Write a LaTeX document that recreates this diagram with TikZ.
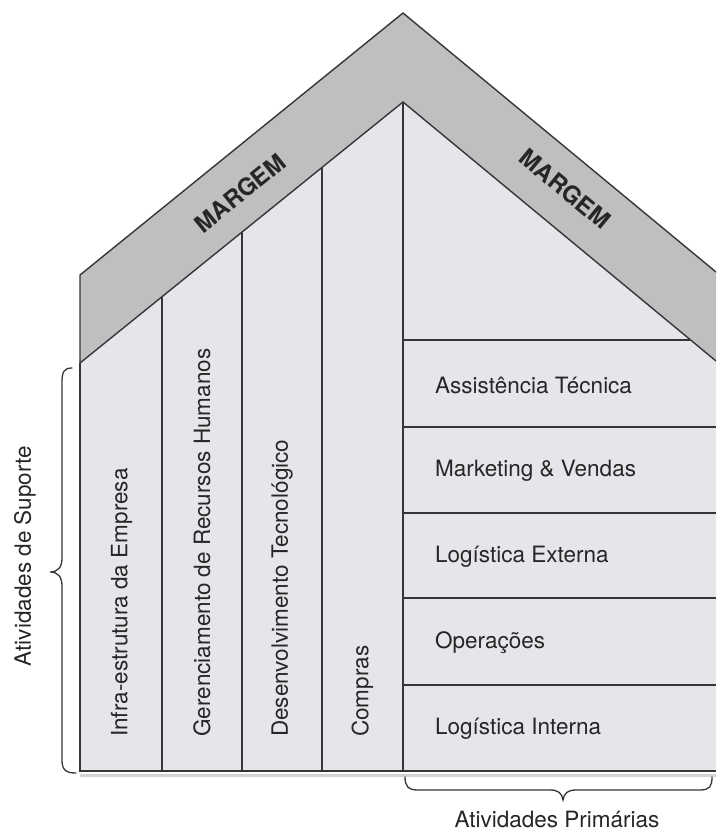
\documentclass[tikz,border=0pt]{standalone}
\usepackage{fontspec}
\setmainfont{TeX Gyre Heros}
\definecolor{bandgrey}{HTML}{BEBFC1}
\definecolor{wallgrey}{HTML}{E4E6E9}
\definecolor{linegrey}{HTML}{363636}
\definecolor{textgrey}{HTML}{262626}
\definecolor{shadowgrey}{HTML}{D2D3D5}
\begin{document}
\begin{tikzpicture}[x=1pt,y=-1pt,
  edge/.style={draw=linegrey, line width=1.4pt, line join=miter},
  bracepath/.style={draw=linegrey, line width=1.3pt, line cap=round},
  lbl/.style={font=\fontsize{22.5}{26}\selectfont, text=textgrey, inner sep=0pt},
  margem/.style={font=\fontsize{24}{28}\selectfont\bfseries, text=black!85, inner sep=0pt},
  coltext/.style={lbl, rotate=90, anchor=west},
  rowtext/.style={lbl, anchor=west}]
\useasboundingbox (0,0) rectangle (716,831);
\clip (0,0) rectangle (716,831);

% house corners
\coordinate (wallTop) at (80,275);
\coordinate (apexOut) at (403,13);
\coordinate (rightOut) at (716,272);
\coordinate (wallIn) at (80,363);
\coordinate (apexIn) at (403,102);
\coordinate (rightIn) at (716,361);
\coordinate (floorL) at (80,771);
\coordinate (floorR) at (716,771);

% interior walls
\fill[wallgrey] (wallIn) -- (apexIn) -- (rightIn) -- (floorR) -- (floorL) -- cycle;
% margin band (roof)
\fill[bandgrey] (wallTop) -- (apexOut) -- (rightOut) -- (rightIn) -- (apexIn) -- (wallIn) -- cycle;

% faint shadow under the floor
\draw[shadowgrey, line width=3pt] (80,775) -- (716,775);

% outlines
\draw[edge] (wallIn) -- (wallTop) -- (apexOut) -- (rightOut);
\draw[edge] (wallIn) -- (apexIn) -- (rightIn);
\draw[edge] (wallIn) -- (floorL) -- (floorR);

% support activity columns
\draw[edge] (162,296.7) -- (162,771);
\draw[edge] (242,232.1) -- (242,771);
\draw[edge] (322,167.5) -- (322,771);
\draw[edge] (apexIn) -- (403,771);

% primary activity rows
\draw[edge] (403,340) -- (690,340);
\draw[edge] (403,427) -- (716,427);
\draw[edge] (403,513) -- (716,513);
\draw[edge] (403,598) -- (716,598);
\draw[edge] (403,685) -- (716,685);

% margin labels
\node[margem, rotate=39] (margemL) at (240,193) {MARGEM};
\node[margem, rotate=-39.6] (margemR) at (565,189) {MARGEM};

% support activities
\node[coltext] (infra) at (121.5,737) {Infra-estrutura da Empresa};
\node[coltext] (rh) at (202,737) {Gerenciamento de Recursos Humanos};
\node[coltext] (tec) at (282,737) {Desenvolvimento Tecnológico};
\node[coltext] (compras) at (362.5,737) {Compras};

% primary activities
\node[rowtext] (assist) at (435,385) {Assistência Técnica};
\node[rowtext] (mkt) at (435,470.5) {Marketing \& Vendas};
\node[rowtext] (logext) at (435,557) {Logística Externa};
\node[rowtext] (oper) at (435,642.5) {Operações};
\node[rowtext] (logint) at (435,728.5) {Logística Interna};

% braces
\draw[bracepath] (72,368) .. controls (64,368) and (62,372) .. (62,382)
  -- (62,558) .. controls (62,567) and (58,572) .. (50,572)
  .. controls (58,572) and (62,577) .. (62,586)
  -- (62,760) .. controls (62,770) and (66,773) .. (76,773);
\draw[bracepath] (405,777) .. controls (405,786) and (408,790) .. (418,790)
  -- (550,790) .. controls (558,790) and (562,793) .. (563,800)
  .. controls (564,793) and (568,790) .. (576,790)
  -- (700,790) .. controls (710,790) and (712,786) .. (712,777);

\node[lbl, rotate=90] (suporte) at (25,556) {Atividades de Suporte};
\node[lbl] (primarias) at (557,819) {Atividades Primárias};
\end{tikzpicture}
\end{document}
